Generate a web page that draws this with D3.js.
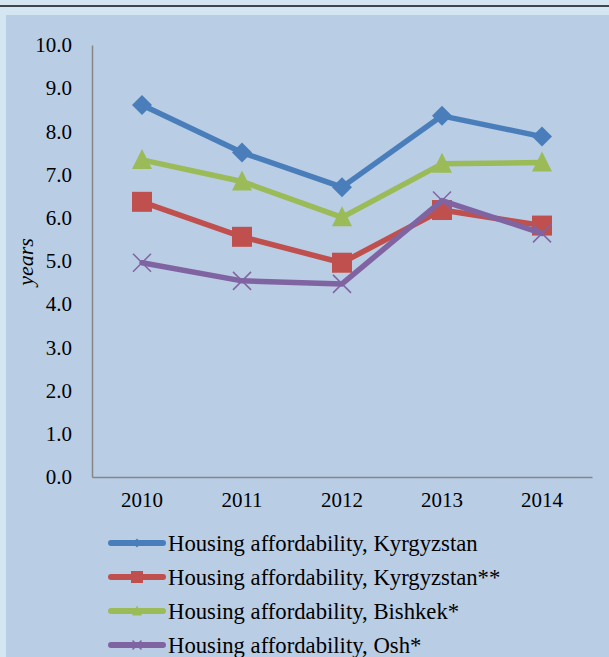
<!DOCTYPE html>
<html>
<head>
<meta charset="utf-8">
<script src="https://cdn.jsdelivr.net/npm/d3@7"></script>
<style>
  body { margin: 0; background: #d3e6f1; }
  svg { display: block; }
</style>
</head>
<body>
<div id="chart"></div>
<script>
const years = ["2010", "2011", "2012", "2013", "2014"]
const kyrgyzstan = [8.61, 7.51, 6.71, 8.36, 7.88]
const kyrgyzstan2 = [6.37, 5.56, 4.96, 6.18, 5.82]
const bishkek = [7.34, 6.84, 6.01, 7.25, 7.28]
const osh = [4.96, 4.54, 4.47, 6.40, 5.64]
const yTicks = [0, 1, 2, 3, 4, 5, 6, 7, 8, 9, 10]

const series = [
  {name: "Housing affordability, Kyrgyzstan", values: kyrgyzstan, color: "#4a7ebb", marker: "diamond"},
  {name: "Housing affordability, Kyrgyzstan**", values: kyrgyzstan2, color: "#c0504d", marker: "square"},
  {name: "Housing affordability, Bishkek*", values: bishkek, color: "#9bbb59", marker: "triangle"},
  {name: "Housing affordability, Osh*", values: osh, color: "#8064a2", marker: "cross"}
]

const width = 609, height = 657
const font = "'Liberation Serif', 'Times New Roman', serif"

const svg = d3.select("#chart").append("svg")
  .attr("width", width)
  .attr("height", height)

// outer frame
svg.append("line")
  .attr("x1", 0).attr("x2", width).attr("y1", 6).attr("y2", 6)
  .attr("stroke", "#111").attr("stroke-width", 1.5)
svg.append("rect")
  .attr("x", 6).attr("y", 15).attr("width", width - 6).attr("height", height - 15)
  .attr("fill", "#b9cde5")

const x = d3.scaleBand().domain(years).range([92, 592])
const y = d3.scaleLinear().domain([0, 10]).range([477, 45])

// y axis
const yAxis = svg.append("g")
  .attr("transform", "translate(92,0)")
  .call(d3.axisLeft(y).tickValues(yTicks).tickFormat(d3.format(".1f")).tickSize(0).tickPadding(20))
yAxis.select(".domain").attr("stroke", "#868686").attr("stroke-width", 1.5)
yAxis.selectAll("text").attr("font-family", font).attr("font-size", 21).attr("fill", "#000")

// x axis
const xAxis = svg.append("g")
  .attr("transform", "translate(0,477)")
  .call(d3.axisBottom(x).tickSize(0).tickPadding(15))
xAxis.select(".domain").attr("stroke", "#868686").attr("stroke-width", 1.5)
xAxis.selectAll("text").attr("font-family", font).attr("font-size", 21).attr("fill", "#000")

svg.append("text")
  .attr("transform", "translate(33,262) rotate(-90)")
  .attr("text-anchor", "middle")
  .attr("font-family", font).attr("font-size", 22).attr("font-style", "italic")
  .text("years")

function drawMarker(g, type, color, s) {
  if (type === "diamond") {
    g.append("path").attr("d", `M0,${-s}L${s},0L0,${s}L${-s},0Z`).attr("fill", color)
  } else if (type === "square") {
    g.append("rect").attr("x", -s).attr("y", -s)
      .attr("width", s * 2).attr("height", s * 2).attr("fill", color)
  } else if (type === "triangle") {
    g.append("path").attr("d", `M0,${-s * 1.1}L${s},${s * 0.9}L${-s},${s * 0.9}Z`).attr("fill", color)
  } else {
    g.append("path").attr("d", `M${-s * 0.9},${-s * 0.9}L${s * 0.9},${s * 0.9}M${s * 0.9},${-s * 0.9}L${-s * 0.9},${s * 0.9}`)
      .attr("stroke", color).attr("stroke-width", 1.5).attr("fill", "none")
  }
}

const line = d3.line()
  .x((d, i) => x(years[i]) + x.bandwidth() / 2)
  .y(d => y(d))

series.forEach(s => {
  svg.append("path")
    .datum(s.values)
    .attr("d", line)
    .attr("fill", "none")
    .attr("stroke", s.color)
    .attr("stroke-width", 5.5)
    .attr("stroke-linejoin", "round")
    .attr("stroke-linecap", "round")
  s.values.forEach((v, i) => {
    const g = svg.append("g")
      .attr("transform", `translate(${x(years[i]) + x.bandwidth() / 2},${y(v)})`)
    drawMarker(g, s.marker, s.color, 10)
  })
})

// legend
const legend = svg.append("g")
const legendSizes = {diamond: 4.5, square: 6, triangle: 5, cross: 5}
series.forEach((s, i) => {
  const ly = 543 + i * 34
  const g = legend.append("g").attr("transform", `translate(0,${ly})`)
  g.append("line").attr("x1", 111).attr("x2", 163).attr("y1", 0).attr("y2", 0)
    .attr("stroke", s.color).attr("stroke-width", 6).attr("stroke-linecap", "round")
  drawMarker(g.append("g").attr("transform", "translate(137,0)"), s.marker, s.color, legendSizes[s.marker])
  g.append("text")
    .attr("x", 168).attr("y", 0).attr("dy", "0.35em")
    .attr("font-family", font).attr("font-size", 22.7)
    .text(s.name)
})
</script>
</body>
</html>
